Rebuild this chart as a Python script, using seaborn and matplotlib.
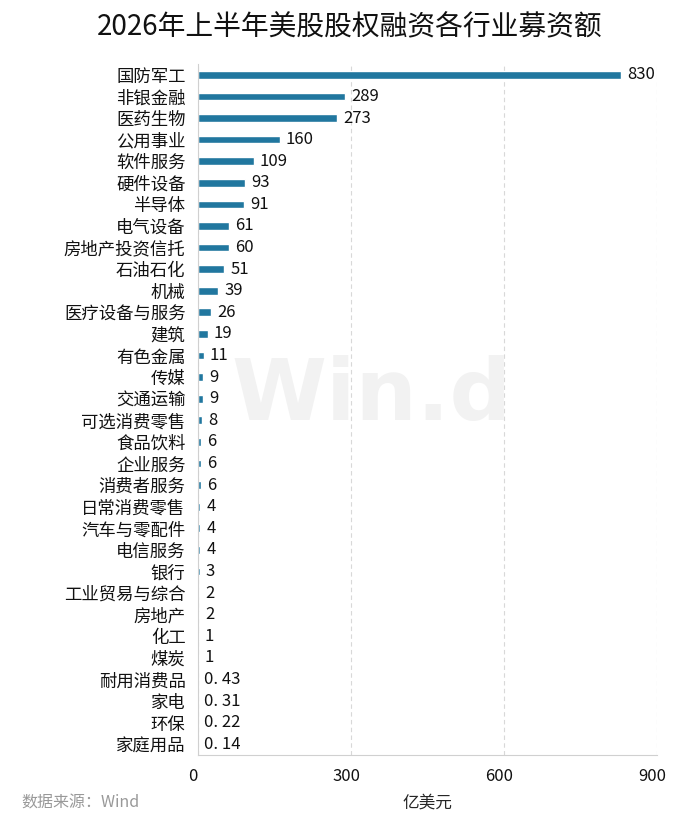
import matplotlib
matplotlib.use("Agg")
import matplotlib.pyplot as plt
import matplotlib.transforms as mtransforms
import seaborn as sns
import pandas as pd

# 数据
industries = ["国防军工", "非银金融", "医药生物", "公用事业", "软件服务", "硬件设备", "半导体",
              "电气设备", "房地产投资信托", "石油石化", "机械", "医疗设备与服务", "建筑",
              "有色金属", "传媒", "交通运输", "可选消费零售", "食品饮料", "企业服务",
              "消费者服务", "日常消费零售", "汽车与零配件", "电信服务", "银行",
              "工业贸易与综合", "房地产", "化工", "煤炭", "耐用消费品", "家电", "环保", "家庭用品"]
amounts = [830, 289, 273, 160, 109, 93, 91, 61, 60, 51, 39, 26, 19, 11, 9, 9, 8, 6, 6, 6,
           4, 4, 4, 3, 2, 2, 1, 1, 0.43, 0.31, 0.22, 0.14]
xticks = [0, 300, 600, 900]

df = pd.DataFrame({"行业": industries, "募资额": amounts})

sns.set_style("white")
plt.rcParams["font.family"] = ["Noto Sans CJK SC", "DejaVu Sans"]

fig = plt.figure(figsize=(7, 8.22), dpi=100)
ax = fig.add_axes([0.2829, 0.0815, 0.6557, 0.8406])

sns.barplot(data=df, y="行业", x="募资额", color="#21779f", width=0.36,
            saturation=1, ax=ax, orient="h")

# 数值标签
for i, v in enumerate(amounts):
    txt = f"{v:g}" if v >= 1 else f"{v:.2f}".replace(".", ". ")
    ax.annotate(txt, (v, i), xytext=(4.5, 0), textcoords="offset points",
                va="center", ha="left", fontsize=12, color="#111111")

ax.set_xlim(0, 900)
ax.set_ylim(len(industries) - 0.5, -0.5)
ax.set_xticks(xticks)
ax.set_xticklabels([str(t) for t in xticks])
ax.xaxis.grid(True, linestyle=(0, (4, 3)), color="#d8d8d8", linewidth=0.8)
ax.set_axisbelow(True)
for s in ["top", "right"]:
    ax.spines[s].set_visible(False)
for s in ["left", "bottom"]:
    ax.spines[s].set_color("#d0d0d0")
    ax.spines[s].set_linewidth(0.8)
ax.tick_params(axis="y", length=0, labelsize=12.5, pad=9, labelcolor="#111111")
ax.tick_params(axis="x", length=0, labelsize=12, pad=9, labelcolor="#111111")
shift = mtransforms.ScaledTranslation(-5 / 100, 0, fig.dpi_scale_trans)
for lab in ax.get_xticklabels():
    lab.set_transform(lab.get_transform() + shift)
ax.set_ylabel("")
ax.set_xlabel("亿美元", fontsize=12, labelpad=7)

# 水印
fig.text(0.531, 0.518, "Win.d", fontsize=62, fontweight="bold", color="#f2f2f2",
         ha="center", va="center", zorder=0, family="DejaVu Sans")

fig.text(0.5, 0.967, "2026年上半年美股股权融资各行业募资额", ha="center", va="center",
         fontsize=20, color="#111111")
fig.text(0.031, 0.023, "数据来源：Wind", ha="left", va="center", fontsize=11.5, color="#999999")

fig.savefig("out.png", dpi=100)
